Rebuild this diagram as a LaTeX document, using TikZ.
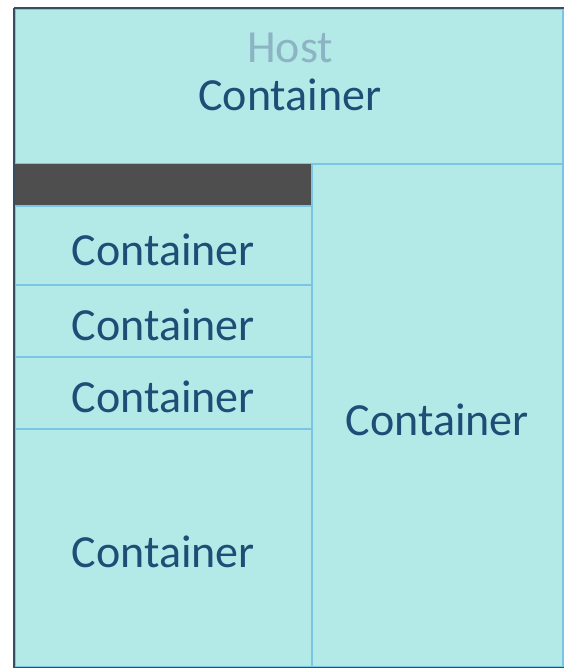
\documentclass[tikz,border=0pt]{standalone}
\usepackage{fontspec}
\setmainfont{Carlito}
\usetikzlibrary{positioning}
\definecolor{cellfill}{RGB}{179,234,231}
\definecolor{cellline}{RGB}{122,196,228}
\definecolor{frameline}{RGB}{52,78,98}
\definecolor{nametext}{RGB}{30,78,118}
\definecolor{hosttext}{RGB}{140,180,196}
\definecolor{barfill}{RGB}{78,78,78}
\begin{document}
\begin{tikzpicture}[x=1pt,y=-1pt,
   cell/.style={draw=cellline,fill=cellfill,line width=1.6pt,anchor=north west,inner sep=0pt,
     font=\fontsize{46}{52}\selectfont,text=nametext,text height=40pt,text depth=0pt},
   ctxt/.style={font=\fontsize{46}{52}\selectfont,text=nametext,inner sep=0pt},
   htxt/.style={font=\fontsize{46}{52}\selectfont,text=hosttext,inner sep=0pt}]
\useasboundingbox (0,0) rectangle (572,669);
% top host strip
\node[cell,minimum width=548pt,minimum height=155pt] (host) at (14,8) {};
\node[htxt] (hostlbl) at (290,48) {Host};
\node[ctxt] (hostname) at (290,95) {Container};
% dark bar over the left column
\node[cell,draw=none,fill=barfill,minimum width=297pt,minimum height=42pt] (bar) at (14,163) {};
% left column, top to bottom
\node[cell,minimum width=297pt,minimum height=79pt] (left1) at (14,205) {Container};
\node[cell,minimum width=297pt,minimum height=72pt] (left2) at (14,284) {Container};
\node[cell,minimum width=297pt,minimum height=72pt] (left3) at (14,356) {Container};
\node[cell,minimum width=297pt,minimum height=238pt] (left4) at (14,428) {Container};
% right column
\node[cell,minimum width=251pt,minimum height=503pt] (right) at (311,163) {Container};
% outer frame
\draw[frameline,line width=1.4pt] (host.north west) -- (host.north east);
\draw[frameline,line width=1.4pt] (host.north west) -- (left4.south west) -- (right.south east);
\end{tikzpicture}
\end{document}
